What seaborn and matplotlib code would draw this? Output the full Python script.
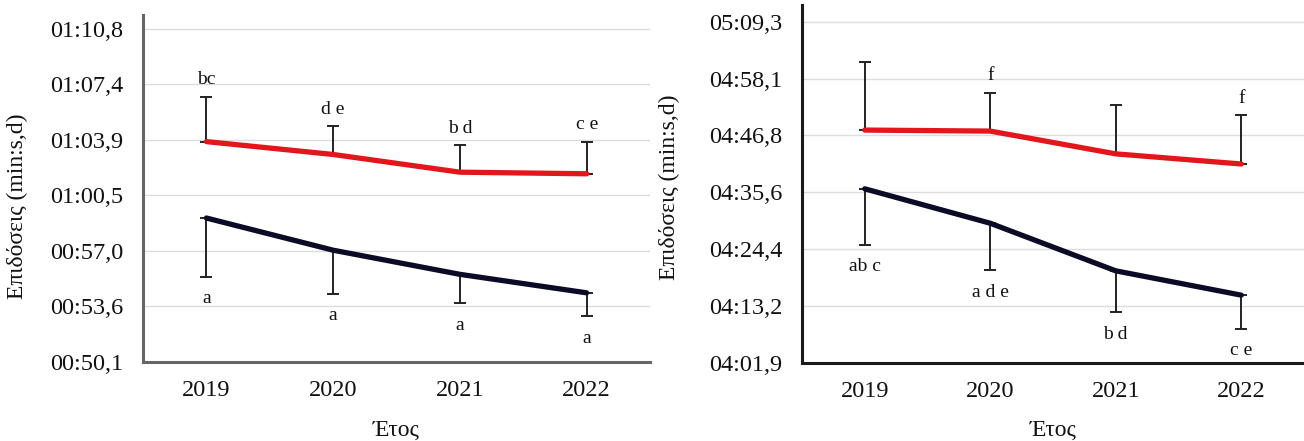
import numpy as np
import pandas as pd
import matplotlib
matplotlib.use("Agg")
import matplotlib.pyplot as plt
import seaborn as sns

# δεδομένα (δευτερόλεπτα)
years = ["2019", "2020", "2021", "2022"]

left_red = [63.8, 63.0, 61.9, 61.8]
left_red_err = [2.8, 1.75, 1.7, 2.0]
left_black = [59.05, 57.05, 55.55, 54.4]
left_black_err = [3.65, 2.7, 1.8, 1.45]
left_red_letters = ["bc", "d e", "b d", "c e"]
left_black_letters = ["a", "a", "a", "a"]
left_tick_labels = ["00:50,1", "00:53,6", "00:57,0", "01:00,5", "01:03,9", "01:07,4", "01:10,8"]

right_red = [287.9, 287.7, 283.2, 281.2]
right_red_err = [13.4, 7.6, 9.6, 9.6]
right_black = [276.3, 269.5, 260.1, 255.3]
right_black_err = [11.0, 9.2, 8.1, 6.6]
right_red_letters = ["", "f", "", "f"]
right_black_letters = ["ab c", "a d e", "b d", "c e"]
right_tick_labels = ["04:01,9", "04:13,2", "04:24,4", "04:35,6", "04:46,8", "04:58,1", "05:09,3"]

RED = "#e3161c"
NAVY = "#0b0b26"

sns.set_theme(style="white")
plt.rcParams['font.family'] = ['Liberation Serif', 'DejaVu Serif']


def panel(ax, red, red_err, black, black_err, red_let, black_let,
          tick_labels, ymin, ymax, ytop, spine_col):
    df = pd.DataFrame({
        "year": years * 2,
        "t": red + black,
        "group": ["red"] * 4 + ["black"] * 4,
    })
    x = np.arange(len(years))

    # μονόπλευρα σφάλματα
    ax.errorbar(x, red, yerr=[np.zeros(4), red_err], fmt="none",
                ecolor="#222222", elinewidth=1.4, capsize=4, capthick=1.4, zorder=2)
    ax.errorbar(x, black, yerr=[black_err, np.zeros(4)], fmt="none",
                ecolor="#222222", elinewidth=1.4, capsize=4, capthick=1.4, zorder=2)

    sns.lineplot(data=df, x="year", y="t", hue="group",
                 palette={"red": RED, "black": NAVY}, linewidth=3.8,
                 legend=False, sort=False, ax=ax, zorder=3)

    for i in range(4):
        if red_let[i]:
            ax.annotate(red_let[i], (x[i], red[i] + red_err[i]), xytext=(0, 12),
                        textcoords="offset points", ha="center", va="center",
                        fontsize=14, color="#111111")
        if black_let[i]:
            ax.annotate(black_let[i], (x[i], black[i] - black_err[i]), xytext=(0, -16),
                        textcoords="offset points", ha="center", va="center",
                        fontsize=14, color="#111111")

    ax.set_xlim(-0.5, 3.5)
    ax.set_ylim(ymin, ytop)
    ax.set_yticks(np.linspace(ymin, ymax, 7), tick_labels)
    ax.set_xticks(x, years)
    ax.set_xticks(np.arange(-0.5, 3.6, 1.0), minor=True)
    ax.tick_params(axis="x", which="major", length=0, pad=13, labelsize=17.5, colors="#111111")
    ax.tick_params(axis="x", which="minor", length=6, width=1.5, direction="out", color=spine_col)
    ax.tick_params(axis="y", length=7, width=1.5, direction="out", pad=7,
                   labelsize=17.5, colors="#111111")
    ax.tick_params(axis="y", color=spine_col)
    ax.grid(axis="y", color="#dcdcdc", linewidth=1)
    ax.set_axisbelow(True)
    for s in ["top", "right"]:
        ax.spines[s].set_visible(False)
    for s in ["left", "bottom"]:
        ax.spines[s].set_color(spine_col)
        ax.spines[s].set_linewidth(2.2)
    ax.set_xlabel("Έτος", fontsize=17, color="#111111")
    ax.set_ylabel("Επιδόσεις (min:s,d)", fontsize=17, color="#111111")


fig = plt.figure(figsize=(13.04, 4.41), dpi=100)
ax1 = fig.add_axes([143 / 1304, 79 / 441, 507 / 1304, 347 / 441])
ax2 = fig.add_axes([802 / 1304, 78 / 441, 502 / 1304, 358 / 441])

panel(ax1, left_red, left_red_err, left_black, left_black_err,
      left_red_letters, left_black_letters, left_tick_labels,
      50.1, 70.8, 71.67, "#666666")
panel(ax2, right_red, right_red_err, right_black, right_black_err,
      right_red_letters, right_black_letters, right_tick_labels,
      241.9, 309.3, 312.6, "#1a1a1a")

ax1.yaxis.set_label_coords(-0.227, 0.45)
ax2.yaxis.set_label_coords(-0.243, 0.49)
ax1.xaxis.set_label_coords(0.5, -0.167)
ax2.xaxis.set_label_coords(0.5, -0.16)

fig.savefig("out.png", dpi=100)
